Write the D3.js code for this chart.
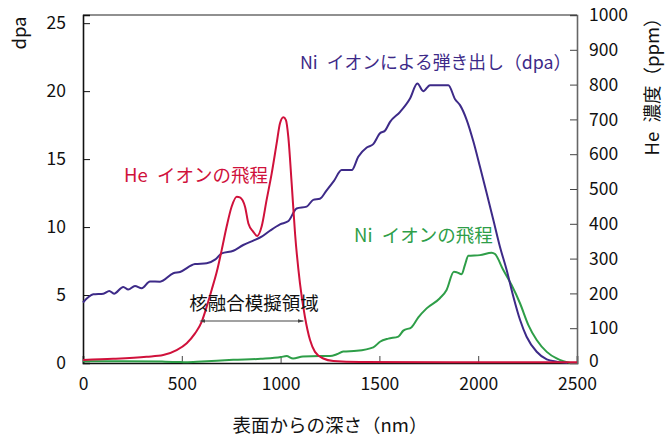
<!DOCTYPE html>
<html>
<head>
<meta charset="utf-8">
<script src="https://cdn.jsdelivr.net/npm/d3@7"></script>
<style>
  html, body { margin: 0; padding: 0; background: #fff; }
  svg { display: block; font-family: "Noto Sans CJK JP", "Noto Sans", sans-serif; }
</style>
</head>
<body>
<svg id="chart" width="665" height="439"></svg>
<script>
// Ni ion displacement damage (dpa, left axis)
const dpaDepth = [0, 52, 103, 133, 157, 204, 229, 263, 297, 339, 390, 457, 491, 567, 626, 668, 702, 761, 811, 862, 904, 946, 997, 1040, 1081, 1132, 1165, 1199, 1233, 1270, 1309, 1360, 1393, 1436, 1469, 1503, 1528, 1554, 1605, 1655, 1692, 1722, 1756, 1849, 1883, 1908, 1942, 1976, 2009, 2043, 2077, 2110, 2144, 2178, 2212, 2245, 2296, 2347, 2397, 2450];
const dpaValue = [4.45, 5.05, 5.1, 5.3, 5.1, 5.6, 5.4, 5.66, 5.5, 6.0, 5.98, 6.6, 6.7, 7.28, 7.33, 7.6, 8.06, 8.26, 8.68, 9.0, 9.29, 9.73, 10.2, 10.45, 11.37, 11.5, 12.0, 12.08, 12.7, 13.4, 14.19, 14.19, 15.17, 15.85, 16.1, 16.9, 17.08, 17.74, 18.48, 19.46, 20.56, 20.0, 20.44, 20.44, 19.4, 18.97, 17.87, 16.27, 14.43, 12.48, 10.5, 8.55, 6.84, 4.88, 3.16, 1.93, 0.83, 0.27, 0.1, 0];

// He ion range (ppm, right axis)
const heDepth = [0, 153, 322, 406, 474, 525, 567, 601, 626, 651, 677, 702, 727, 752, 778, 794, 820, 837, 862, 882, 904, 929, 955, 980, 997, 1014, 1027, 1039, 1056, 1073, 1098, 1123, 1149, 1174, 1216, 1267, 1400, 2500];
const heValue = [8.6, 12, 18, 23, 37, 57, 85, 119, 162, 210, 262, 325, 392, 449, 478, 476, 449, 401, 377, 365, 392, 468, 545, 631, 689, 706, 698, 650, 516, 373, 229, 133, 66, 32, 13, 6, 3, 2];

// Ni ion range (right axis scale)
const niDepth = [0, 200, 400, 480, 520, 600, 760, 900, 1002, 1030, 1063, 1113, 1200, 1250, 1284, 1317, 1385, 1469, 1503, 1545, 1596, 1621, 1663, 1697, 1739, 1806, 1840, 1877, 1891, 1916, 1933, 1950, 2009, 2068, 2085, 2127, 2169, 2212, 2254, 2296, 2347, 2397, 2431, 2465];
const niValue = [5, 5, 4, 3, 2, 4, 9, 12, 17, 20, 13, 19, 20, 20, 25, 33, 35, 45, 61, 70, 76, 93, 103, 131, 157, 186, 210, 262, 261, 255, 282, 308, 310, 317, 313, 267, 224, 171, 109, 66, 32, 13, 5, 0];

const xTicks = [0, 500, 1000, 1500, 2000, 2500];
const leftTicks = [0, 5, 10, 15, 20, 25];
const rightTicks = [0, 100, 200, 300, 400, 500, 600, 700, 800, 900, 1000];

const svg = d3.select('#chart');
const L = 83, R = 577, T = 15, B = 363;

const x = d3.scaleLinear().domain([0, 2500]).range([L, R]);
const yL = d3.scaleLinear().domain([0, 25.6]).range([B, T]);
const yR = d3.scaleLinear().domain([0, 1000]).range([B, T]);

const COL_DPA = '#3d2a88', COL_HE = '#d0113b', COL_NI = '#2e9e48';
const LBL = 18.5; // label font size

// frame: top line
svg.append('line').attr('x1', L).attr('x2', R).attr('y1', T).attr('y2', T)
  .attr('stroke', '#222').attr('stroke-width', 1.2);

// Axes
const gx = svg.append('g').attr('transform', `translate(0,${B})`)
  .call(d3.axisBottom(x).tickValues(xTicks).tickSize(-7).tickPadding(15).tickFormat(d3.format('d')));
const gl = svg.append('g').attr('transform', `translate(${L},0)`)
  .call(d3.axisLeft(yL).tickValues(leftTicks).tickSize(-7).tickPadding(17).tickFormat(d3.format('d')));
const gr = svg.append('g').attr('transform', `translate(${R},0)`)
  .call(d3.axisRight(yR).tickValues(rightTicks).tickSize(-7).tickPadding(12).tickFormat(d3.format('d')));

[gx, gl, gr].forEach(g => {
  g.selectAll('text').attr('font-size', 17.5).attr('fill', '#111')
    .attr('font-family', '"Noto Sans CJK JP", "Noto Sans", sans-serif');
});
gx.select('.domain').attr('stroke', '#111').attr('stroke-width', 1.6);
gl.select('.domain').attr('stroke', '#111').attr('stroke-width', 1.6);
gr.select('.domain').attr('stroke', '#666').attr('stroke-width', 1.6);
gx.selectAll('.tick line').attr('stroke', '#444');
gl.selectAll('.tick line').attr('stroke', '#111');
gr.selectAll('.tick line').attr('stroke', '#444');
gx.selectAll('.tick').filter(d => d === 0 || d === 2500).select('line').remove();
gl.selectAll('.tick').filter(d => d === 0).select('line').remove();
gr.selectAll('.tick').filter(d => d === 0).select('line').remove();
// keep right-axis "0" clear of the "2500" label below it
gr.selectAll('.tick').filter(d => d === 0).select('text').attr('dy', '0.2em');

// Curves
const mk = (ys, xs) => d3.line()
  .x((d, i) => x(xs[i]))
  .y(d => ys(d))
  .curve(d3.curveMonotoneX);

svg.append('path').datum(niValue).attr('d', mk(yR, niDepth))
  .attr('fill', 'none').attr('stroke', COL_NI).attr('stroke-width', 2);
svg.append('path').datum(dpaValue).attr('d', mk(yL, dpaDepth))
  .attr('fill', 'none').attr('stroke', COL_DPA).attr('stroke-width', 2);
svg.append('path').datum(heValue).attr('d', mk(yR, heDepth))
  .attr('fill', 'none').attr('stroke', COL_HE).attr('stroke-width', 2);

// Axis titles
svg.append('text').attr('transform', 'translate(26,33) rotate(-90)')
  .attr('text-anchor', 'middle').attr('font-size', LBL).attr('fill', '#111').text('dpa');
svg.append('text').attr('transform', 'translate(659,82) rotate(-90)')
  .attr('text-anchor', 'middle').attr('font-size', LBL).attr('fill', '#111').text('He\u2002濃度（ppm）');
svg.append('text').attr('x', 330).attr('y', 432)
  .attr('text-anchor', 'middle').attr('font-size', LBL).attr('fill', '#111').text('表面からの深さ（nm）');

// Series labels
svg.append('text').attr('x', 300).attr('y', 69).attr('font-size', 17.8).attr('fill', COL_DPA)
  .text('Ni\u2002イオンによる弾き出し（dpa）');
svg.append('text').attr('x', 124).attr('y', 182).attr('font-size', LBL).attr('fill', COL_HE)
  .text('He\u2002イオンの飛程');
svg.append('text').attr('x', 354).attr('y', 242).attr('font-size', LBL).attr('fill', COL_NI)
  .text('Ni\u2002イオンの飛程');

// Fusion-simulation region annotation
svg.append('text').attr('x', 254).attr('y', 310).attr('text-anchor', 'middle')
  .attr('font-size', LBL).attr('fill', '#111').text('核融合模擬領域');
const defs = svg.append('defs');
['s', 'e'].forEach(k => {
  defs.append('marker').attr('id', 'ar' + k).attr('viewBox', '0 0 10 10')
    .attr('refX', k === 'e' ? 9 : 1).attr('refY', 5).attr('markerWidth', 6).attr('markerHeight', 6)
    .attr('orient', 'auto-start-reverse').attr('markerUnits', 'userSpaceOnUse')
    .append('path').attr('d', 'M0,2 L10,5 L0,8 Z').attr('fill', '#444');
});
svg.append('line').attr('x1', x(615)).attr('x2', x(1115)).attr('y1', 321).attr('y2', 321)
  .attr('stroke', '#444').attr('stroke-width', 1.2)
  .attr('marker-start', 'url(#ars)').attr('marker-end', 'url(#are)');
</script>
</body>
</html>
